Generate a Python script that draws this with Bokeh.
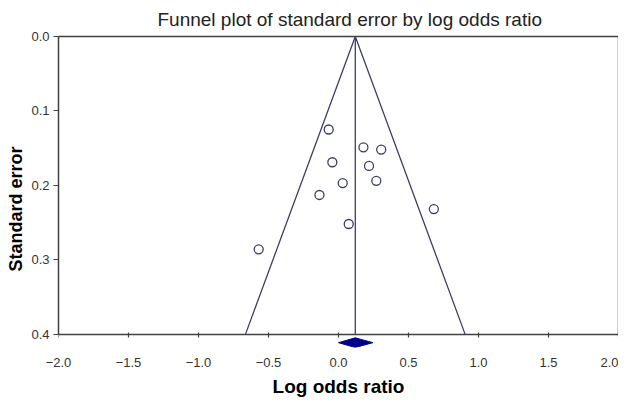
from bokeh.plotting import figure
from bokeh.models import (Range1d, FixedTicker, LinearAxis, CustomJSTickFormatter,
                          Title, ColumnDataSource)
from bokeh.embed import file_html
from bokeh.resources import INLINE

# ---- data ----
log_odds = [-0.070, 0.178, 0.305, -0.044, 0.218, 0.030, 0.270, -0.136, 0.681, 0.073, -0.570]
std_err = [0.125, 0.149, 0.152, 0.169, 0.174, 0.197, 0.194, 0.213, 0.232, 0.252, 0.286]
pooled_log_odds = 0.12
pooled_ci = [0.0, 0.245]
se_limit = 0.4
z_value = 1.96
x_ticks = [-2.0, -1.5, -1.0, -0.5, 0.0, 0.5, 1.0, 1.5, 2.0]
y_ticks = [0.0, 0.1, 0.2, 0.3, 0.4]

LINE = "#3d3d6b"
AXIS = "#404040"
FONT = "Liberation Sans"

p = figure(width=618, height=399, output_backend="svg", toolbar_location=None,
           x_range=Range1d(-2.0, 2.0), y_range=Range1d(0.418, 0.0),
           title="Funnel plot of standard error by log odds ratio",
           min_border_left=54, min_border_right=0, min_border_top=0, min_border_bottom=0)
p.outline_line_color = None
p.grid.visible = False
p.background_fill_color = "white"

p.title.text_font = FONT
p.title.text_font_size = "19px"
p.title.text_font_style = "normal"
p.title.text_color = "#222222"
p.title.align = "left"
p.title.offset = 99
p.title.standoff = 13

# main x axis: tick labels + axis label
xa = p.xaxis[0]
xa.ticker = FixedTicker(ticks=x_ticks)
xa.formatter = CustomJSTickFormatter(code="return tick.toFixed(1).replace('-', '\u2212')")
xa.axis_line_color = None
xa.major_tick_line_color = None
xa.major_tick_in = 0
xa.major_tick_out = 0
xa.minor_tick_line_color = None
xa.major_label_text_font = FONT
xa.major_label_text_font_size = "13px"
xa.major_label_text_color = "#333333"
xa.major_label_standoff = 10
xa.axis_label = "Log odds ratio"
xa.axis_label_text_font = FONT
xa.axis_label_text_font_size = "19px"
xa.axis_label_text_font_style = "bold"
xa.axis_label_text_color = "black"
xa.axis_label_standoff = 6

# axis line with ticks at the se_limit row
fixed_ax = LinearAxis(fixed_location=se_limit, ticker=FixedTicker(ticks=x_ticks),
                      formatter=CustomJSTickFormatter(code="return ''"),
                      major_label_text_font_size="1px", major_label_standoff=0,
                      major_tick_in=2, major_tick_out=3, minor_tick_line_color=None,
                      axis_line_color=AXIS, axis_line_width=1.5,
                      major_tick_line_color=AXIS, major_tick_line_width=1.2)
p.below = list(p.below) + [fixed_ax]

ya = p.yaxis[0]
ya.ticker = FixedTicker(ticks=y_ticks)
ya.formatter = CustomJSTickFormatter(code="return tick.toFixed(1)")
ya.bounds = (0, se_limit)
ya.axis_line_color = AXIS
ya.axis_line_width = 1.5
ya.major_tick_line_color = AXIS
ya.major_tick_line_width = 1.2
ya.major_tick_in = 0
ya.major_tick_out = 5
ya.minor_tick_line_color = None
ya.major_label_text_font = FONT
ya.major_label_text_font_size = "13px"
ya.major_label_text_color = "#333333"
ya.major_label_standoff = 4

p.add_layout(Title(text="Standard error", align="left", offset=76, standoff=6,
                   text_font=FONT, text_font_size="18px", text_font_style="bold",
                   text_color="black"), "left")

# frame borders top and right
top_ax = LinearAxis(ticker=FixedTicker(ticks=[]), major_tick_in=0, major_tick_out=0,
                    minor_tick_line_color=None, major_label_standoff=0,
                    axis_line_color=AXIS, axis_line_width=1.5)
p.add_layout(top_ax, "above")
right_ax = LinearAxis(bounds=(0, se_limit), ticker=FixedTicker(ticks=[]),
                      major_tick_in=0, major_tick_out=0, minor_tick_line_color=None,
                      major_label_standoff=0, axis_line_color=AXIS, axis_line_width=1.5)
p.add_layout(right_ax, "right")

# funnel
p.line(x=[pooled_log_odds - z_value * se_limit, pooled_log_odds, pooled_log_odds + z_value * se_limit],
       y=[se_limit, 0.0, se_limit], line_color=LINE, line_width=1.3)
p.line(x=[pooled_log_odds, pooled_log_odds], y=[0.0, se_limit], line_color=LINE, line_width=1.3)

src = ColumnDataSource(data=dict(x=log_odds, y=std_err))
p.scatter("x", "y", source=src, size=9, fill_color="white", line_color=LINE, line_width=1.3)

# pooled estimate diamond below the axis
row = se_limit + 0.0115
half_h = 0.0065
p.patch(x=[pooled_ci[0], pooled_log_odds, pooled_ci[1], pooled_log_odds],
        y=[row, row - half_h, row, row + half_h], fill_color="#00008b", line_color="#00008b")

open("out.html", "w").write(file_html(p, INLINE))
